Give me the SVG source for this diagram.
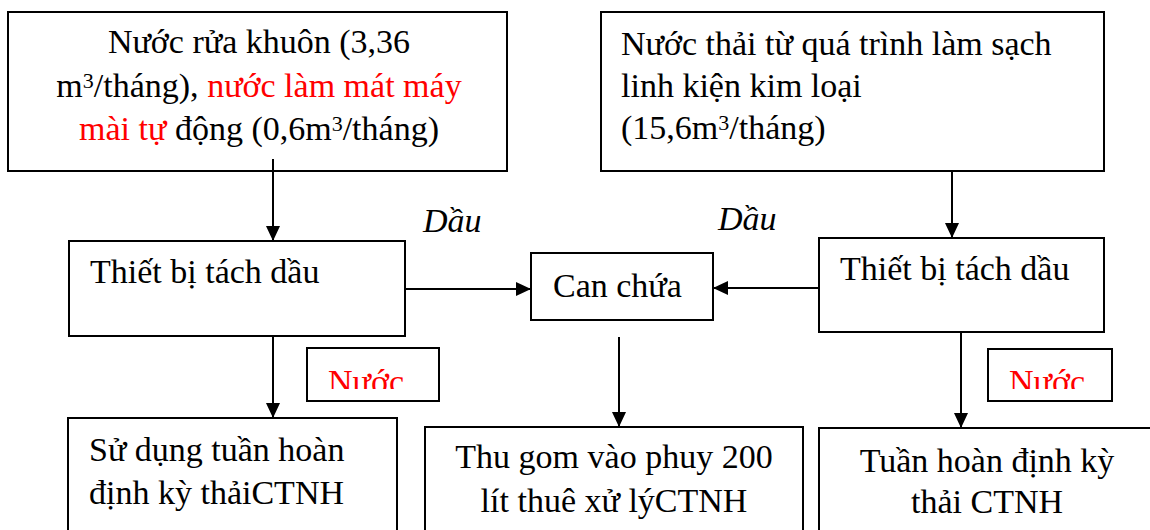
<svg xmlns="http://www.w3.org/2000/svg" width="1150" height="530" viewBox="0 0 1150 530">
<style>
.box{fill:#fff;stroke:#000;stroke-width:2}
.lbl{fill:#fff;stroke:#000;stroke-width:2}
.t{font-size:34px;fill:#000}
.i{font-style:italic}
.red{fill:#ff0000}
.sup{font-size:22px}
.c{text-anchor:middle}
.conn{stroke:#000;stroke-width:2;fill:none;marker-end:url(#ah)}
</style>
<defs>
<marker id="ah" markerUnits="userSpaceOnUse" markerWidth="15" markerHeight="14" refX="15" refY="7" orient="auto">
<path d="M0,0 L15,7 L0,14 Z" fill="#000"/>
</marker>
<clipPath id="clipL"><rect x="308" y="349" width="130" height="40"/></clipPath>
<clipPath id="clipR"><rect x="989" y="350" width="122" height="39"/></clipPath>
</defs>
<rect width="1150" height="530" fill="#fff"/>
<g font-family="Liberation Serif, Times New Roman, serif">

<g id="src1">
<rect class="box" x="8" y="12" width="499" height="159"/>
<text class="t c" x="259" y="53">Nước rửa khuôn (3,36</text>
<text class="t c" x="259" y="97">m<tspan class="sup" dy="-9">3</tspan><tspan dy="9">/tháng), </tspan><tspan class="red">nước làm mát máy</tspan></text>
<text class="t c" x="259" y="140"><tspan class="red">mài tự</tspan> động (0,6m<tspan class="sup" dy="-9">3</tspan><tspan dy="9">/tháng)</tspan></text>
</g>

<g id="src2">
<rect class="box" x="601" y="12" width="503" height="159"/>
<text class="t" x="621" y="55">Nước thải từ quá trình làm sạch</text>
<text class="t" x="621" y="97">linh kiện kim loại</text>
<text class="t" x="621" y="139">(15,6m<tspan class="sup" dy="-9">3</tspan><tspan dy="9">/tháng)</tspan></text>
</g>

<g id="sep1">
<rect class="box" x="69" y="241" width="336" height="95"/>
<text class="t" x="90" y="283">Thiết bị tách dầu</text>
</g>

<g id="can">
<rect class="box" x="531" y="253" width="182" height="67"/>
<text class="t" x="553" y="297">Can chứa</text>
</g>

<g id="sep2">
<rect class="box" x="819" y="238" width="285" height="94"/>
<text class="t" x="840" y="280">Thiết bị tách dầu</text>
</g>

<g id="lblWater1">
<rect class="lbl" x="307" y="348" width="132" height="53"/>
<text class="t red" x="328" y="393" clip-path="url(#clipL)">Nước</text>
</g>

<g id="lblWater2">
<rect class="lbl" x="988" y="349" width="124" height="52"/>
<text class="t red" x="1009" y="393" clip-path="url(#clipR)">Nước</text>
</g>

<g id="out1">
<rect class="box" x="68" y="418" width="329" height="130"/>
<text class="t" x="89" y="461">Sử dụng tuần hoàn</text>
<text class="t" x="89" y="504">định kỳ thảiCTNH</text>
</g>

<g id="out2">
<rect class="box" x="425" y="427" width="378" height="120"/>
<text class="t c" x="614" y="468">Thu gom vào phuy 200</text>
<text class="t c" x="614" y="512">lít thuê xử lýCTNH</text>
</g>

<g id="out3">
<rect class="box" x="819" y="428" width="340" height="120"/>
<text class="t c" x="987" y="472">Tuần hoàn định kỳ</text>
<text class="t c" x="987" y="513">thải CTNH</text>
</g>

<g id="oilLabels">
<text class="t i" x="423" y="232">Dầu</text>
<text class="t i" x="718" y="230">Dầu</text>
</g>
</g>

<g id="connectors">
<line class="conn" x1="273" y1="159" x2="273" y2="241"/>
<line class="conn" x1="952" y1="171" x2="952" y2="238"/>
<line class="conn" x1="405" y1="289" x2="531" y2="289"/>
<line class="conn" x1="819" y1="288" x2="713" y2="288"/>
<line class="conn" x1="273" y1="336" x2="273" y2="418"/>
<line class="conn" x1="619" y1="337" x2="619" y2="427"/>
<line class="conn" x1="961" y1="332" x2="961" y2="428"/>
</g>
</svg>
